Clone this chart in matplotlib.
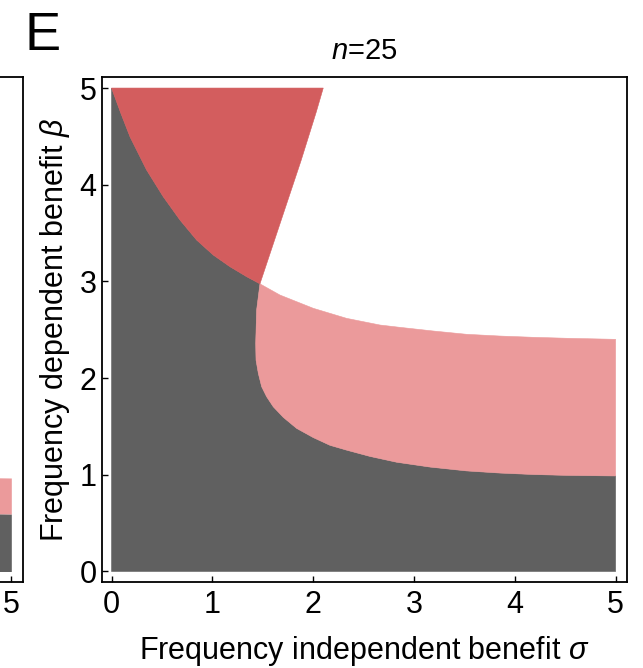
"""
Region plot for n=25: stability regions in the (sigma, beta) plane,
with the right edge of the neighbouring panel peeking in at the left.
"""

import matplotlib.pyplot as plt

plt.rcParams['font.family'] = ['Liberation Sans', 'DejaVu Sans']
plt.rcParams['mathtext.fontset'] = 'custom'
plt.rcParams['mathtext.rm'] = 'Liberation Sans'
plt.rcParams['mathtext.it'] = 'Liberation Sans:italic'

# Colours of the regions
GRAY = '#606060'
RED = '#d35d5e'
PINK = '#eb9a9b'

# Boundary gray / red : from (0, 5) down to the triple point
a_sigma = [0.0, 0.090, 0.183, 0.348, 0.513, 0.679, 0.844, 1.009, 1.175, 1.340, 1.472]
a_beta = [5.0, 4.745, 4.496, 4.152, 3.876, 3.635, 3.428, 3.273, 3.152, 3.049, 2.975]

# Boundary red / white : from the triple point up to beta = 5
c_sigma = [1.472, 1.560, 1.640, 1.720, 1.800, 1.880, 1.955, 2.030, 2.100]
c_beta = [2.975, 3.250, 3.500, 3.750, 4.000, 4.250, 4.500, 4.750, 5.000]

# Boundary pink / white : from the triple point to sigma = 5
d_sigma = [1.472, 1.671, 2.001, 2.332, 2.663, 2.861, 3.192, 3.523, 3.853, 4.184, 4.515, 5.0]
d_beta = [2.975, 2.859, 2.722, 2.618, 2.549, 2.525, 2.487, 2.453, 2.435, 2.422, 2.412, 2.401]

# Boundary gray / pink : from the triple point to sigma = 5
b_sigma = [1.472, 1.439, 1.430, 1.433, 1.456, 1.489, 1.538, 1.604, 1.703, 1.836,
           2.001, 2.167, 2.332, 2.564, 2.828, 3.159, 3.523, 3.853, 4.184, 4.515, 5.0]
b_beta = [2.975, 2.704, 2.360, 2.187, 2.049, 1.911, 1.808, 1.704, 1.595, 1.480,
          1.385, 1.305, 1.255, 1.190, 1.130, 1.080, 1.040, 1.018, 1.003, 0.994, 0.988]

# Neighbouring panel (only its right edge is visible)
left_sigma = [4.8, 5.0]
left_pink_top = [0.970, 0.967]
left_gray_top = [0.598, 0.595]

ticks = [0, 1, 2, 3, 4, 5]

fig = plt.figure(figsize=(6.43, 6.68), dpi=100)


def style_axes(ax):
    ax.set_xlim(-0.095, 5.113)
    ax.set_ylim(-0.109, 5.114)
    ax.set_xticks(ticks)
    ax.set_yticks(ticks)
    ax.tick_params(direction='in', length=4, width=1, labelsize=22,
                   top=False, right=False)
    ax.tick_params(axis='x', pad=6)
    ax.tick_params(axis='y', pad=4)
    for s in ax.spines.values():
        s.set_linewidth(1.3)


# Left (cut-off) panel
axl = fig.add_axes([0.0353 - 0.8165, 0.1287, 0.8165, 0.7560])
style_axes(axl)
axl.fill_between(left_sigma, 0, left_gray_top, color=GRAY, lw=0)
axl.fill_between(left_sigma, left_gray_top, left_pink_top, color=PINK, lw=0)
axl.set_yticklabels([])
axl.set_xticklabels(['', '', '', '', '', '5'])

# Main panel
ax = fig.add_axes([0.1586, 0.1287, 0.8165, 0.7560])
style_axes(ax)

gray_x = [0.0] + a_sigma + b_sigma[1:] + [5.0]
gray_y = [0.0] + a_beta + b_beta[1:] + [0.0]
pink_x = d_sigma + b_sigma[::-1]
pink_y = d_beta + b_beta[::-1]
red_x = a_sigma + c_sigma[1:]
red_y = a_beta + c_beta[1:]

ax.fill(gray_x, gray_y, color=GRAY, lw=0.4)
ax.fill(pink_x, pink_y, color=PINK, lw=0.4)
ax.fill(red_x, red_y, color=RED, lw=0.4)

ax.set_xlabel(r'Frequency independent benefit $\sigma$', fontsize=22, labelpad=10)
ax.set_ylabel(r'Frequency dependent benefit $\beta$', fontsize=22, labelpad=5)
ax.set_title(r'$n$=25', fontsize=21, pad=13)

fig.text(0.038, 0.925, 'E', fontsize=39)

plt.savefig('out.png', dpi=100, facecolor='white')
